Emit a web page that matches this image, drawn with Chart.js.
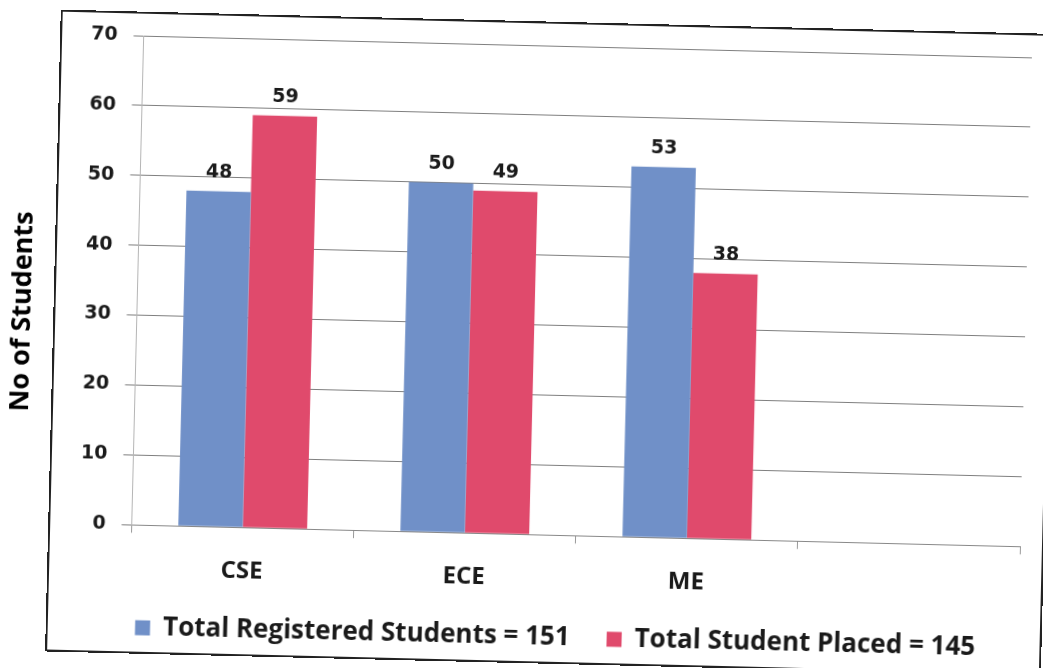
<!DOCTYPE html>
<html>
<head>
<meta charset="utf-8">
<script src="https://cdn.jsdelivr.net/npm/chart.js@4/dist/chart.umd.min.js"></script>
<style>
  html, body { margin: 0; padding: 0; background: #fff; overflow: hidden; }
  #wrap {
    position: absolute; left: 0; top: 0; width: 1043px; height: 668px;
    transform: rotate(1.4deg); transform-origin: 50% 50%;
  }
  #frame {
    position: absolute; left: 53px; top: 21px; width: 992px; height: 638px;
    border: 2px solid #222; pointer-events: none;
  }
  canvas { position: absolute; left: 0; top: 0; }
</style>
</head>
<body>
<div id="wrap">
  <canvas id="placementChart" width="1043" height="668"></canvas>
  <div id="frame"></div>
</div>
<script>
// Branch-wise placement numbers
const branches = ["CSE", "ECE", "ME", ""];
const registered = [48, 50, 53, null];
const placed = [59, 49, 38, null];
const seriesNames = ["Total Registered Students = 151", "Total Student Placed = 145"];
const yTicks = [0, 10, 20, 30, 40, 50, 60, 70];
const yTitle = "No of Students";

const FONT = "'Open Sans', 'DejaVu Sans', sans-serif";
const NUM_FONT = "'DejaVu Sans', sans-serif";

// Value above each bar + the y axis title (sits outside the frame, lower than centre)
const extras = {
  id: "extras",
  afterLayout(chart) {
    // legend sits a little right of centre in the original
    chart.legend.left += 16;
    chart.legend.right += 16;
  },
  afterDatasetsDraw(chart) {
    const ctx = chart.ctx;
    ctx.save();
    ctx.font = "bold 19px " + NUM_FONT;
    ctx.fillStyle = "#1a1a1a";
    ctx.textAlign = "center";
    ctx.textBaseline = "bottom";
    chart.data.datasets.forEach((ds, i) => {
      chart.getDatasetMeta(i).data.forEach((bar, j) => {
        if (ds.data[j] == null) return;
        ctx.fillText(ds.data[j], bar.x, bar.y - 9);
      });
    });
    ctx.restore();
  },
  afterDraw(chart) {
    const ctx = chart.ctx;
    const area = chart.chartArea;
    ctx.save();
    ctx.translate(22, (area.top + area.bottom) / 2 + 34);
    ctx.rotate(-Math.PI / 2);
    ctx.font = "bold 27px " + FONT;
    ctx.fillStyle = "#000";
    ctx.textAlign = "center";
    ctx.textBaseline = "middle";
    ctx.fillText(yTitle, 0, 0);
    ctx.restore();
  }
};

new Chart(document.getElementById("placementChart"), {
  type: "bar",
  data: {
    labels: branches,
    datasets: [
      { label: seriesNames[0], data: registered, backgroundColor: "#7090c8" },
      { label: seriesNames[1], data: placed, backgroundColor: "#e04a6c" }
    ]
  },
  options: {
    responsive: false,
    animation: false,
    events: [],
    categoryPercentage: 0.58,
    barPercentage: 1.0,
    layout: { padding: { left: 68, right: 18, top: 45, bottom: 8 } },
    plugins: {
      tooltip: { enabled: false },
      legend: {
        position: "bottom",
        labels: {
          boxWidth: 15,
          boxHeight: 15,
          padding: 37,
          color: "#1a1a1a",
          font: { family: FONT, size: 26, weight: "bold" }
        }
      }
    },
    scales: {
      x: {
        offset: true,
        // let the plot reach further down; labels keep their distance from the axis
        afterFit: axis => { axis.height -= 28; },
        grid: { display: true, drawOnChartArea: false, offset: true, tickLength: 8, color: "#999" },
        border: { color: "#888" },
        ticks: { color: "#1a1a1a", padding: 22, font: { family: FONT, size: 24, weight: "bold" } }
      },
      y: {
        min: 0,
        max: 70,
        afterBuildTicks: axis => { axis.ticks = yTicks.map(v => ({ value: v })); },
        grid: { color: "#7f7f7f", tickLength: 10 },
        border: { color: "#b5b5b5" },
        ticks: { color: "#1a1a1a", padding: 16, font: { family: NUM_FONT, size: 19, weight: "bold" } }
      }
    }
  },
  plugins: [extras]
});
</script>
</body>
</html>
